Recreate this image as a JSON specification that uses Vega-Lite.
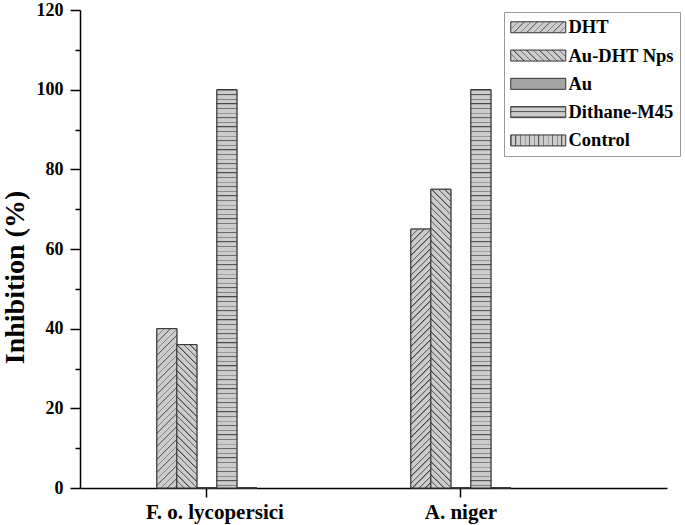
{
  "$schema": "https://vega.github.io/schema/vega-lite/v6.json",
  "width": 587,
  "height": 478,
  "autosize": {"type": "none"},
  "padding": {"left": 80, "top": 10, "right": 18, "bottom": 37},
  "background": "white",
  "params": [
    {"name": "S", "value": [
{"offset":0,"color":"#444"},{"offset":0.003,"color":"#ccc"},{"offset":0.01,"color":"#ccc"},
{"offset":0.01,"color":"#444"},{"offset":0.013,"color":"#ccc"},{"offset":0.02,"color":"#ccc"},
{"offset":0.02,"color":"#444"},{"offset":0.023,"color":"#ccc"},{"offset":0.03,"color":"#ccc"},
{"offset":0.03,"color":"#444"},{"offset":0.033,"color":"#ccc"},{"offset":0.04,"color":"#ccc"},
{"offset":0.04,"color":"#444"},{"offset":0.043,"color":"#ccc"},{"offset":0.05,"color":"#ccc"},
{"offset":0.05,"color":"#444"},{"offset":0.053,"color":"#ccc"},{"offset":0.06,"color":"#ccc"},
{"offset":0.06,"color":"#444"},{"offset":0.063,"color":"#ccc"},{"offset":0.07,"color":"#ccc"},
{"offset":0.07,"color":"#444"},{"offset":0.073,"color":"#ccc"},{"offset":0.08,"color":"#ccc"},
{"offset":0.08,"color":"#444"},{"offset":0.083,"color":"#ccc"},{"offset":0.09,"color":"#ccc"},
{"offset":0.09,"color":"#444"},{"offset":0.093,"color":"#ccc"},{"offset":0.1,"color":"#ccc"},
{"offset":0.1,"color":"#444"},{"offset":0.103,"color":"#ccc"},{"offset":0.11,"color":"#ccc"},
{"offset":0.11,"color":"#444"},{"offset":0.113,"color":"#ccc"},{"offset":0.12,"color":"#ccc"},
{"offset":0.12,"color":"#444"},{"offset":0.123,"color":"#ccc"},{"offset":0.13,"color":"#ccc"},
{"offset":0.13,"color":"#444"},{"offset":0.133,"color":"#ccc"},{"offset":0.14,"color":"#ccc"},
{"offset":0.14,"color":"#444"},{"offset":0.143,"color":"#ccc"},{"offset":0.15,"color":"#ccc"},
{"offset":0.15,"color":"#444"},{"offset":0.153,"color":"#ccc"},{"offset":0.16,"color":"#ccc"},
{"offset":0.16,"color":"#444"},{"offset":0.163,"color":"#ccc"},{"offset":0.17,"color":"#ccc"},
{"offset":0.17,"color":"#444"},{"offset":0.173,"color":"#ccc"},{"offset":0.18,"color":"#ccc"},
{"offset":0.18,"color":"#444"},{"offset":0.183,"color":"#ccc"},{"offset":0.19,"color":"#ccc"},
{"offset":0.19,"color":"#444"},{"offset":0.193,"color":"#ccc"},{"offset":0.2,"color":"#ccc"},
{"offset":0.2,"color":"#444"},{"offset":0.203,"color":"#ccc"},{"offset":0.21,"color":"#ccc"},
{"offset":0.21,"color":"#444"},{"offset":0.213,"color":"#ccc"},{"offset":0.22,"color":"#ccc"},
{"offset":0.22,"color":"#444"},{"offset":0.223,"color":"#ccc"},{"offset":0.23,"color":"#ccc"},
{"offset":0.23,"color":"#444"},{"offset":0.233,"color":"#ccc"},{"offset":0.24,"color":"#ccc"},
{"offset":0.24,"color":"#444"},{"offset":0.243,"color":"#ccc"},{"offset":0.25,"color":"#ccc"},
{"offset":0.25,"color":"#444"},{"offset":0.253,"color":"#ccc"},{"offset":0.26,"color":"#ccc"},
{"offset":0.26,"color":"#444"},{"offset":0.263,"color":"#ccc"},{"offset":0.27,"color":"#ccc"},
{"offset":0.27,"color":"#444"},{"offset":0.273,"color":"#ccc"},{"offset":0.28,"color":"#ccc"},
{"offset":0.28,"color":"#444"},{"offset":0.283,"color":"#ccc"},{"offset":0.29,"color":"#ccc"},
{"offset":0.29,"color":"#444"},{"offset":0.293,"color":"#ccc"},{"offset":0.3,"color":"#ccc"},
{"offset":0.3,"color":"#444"},{"offset":0.303,"color":"#ccc"},{"offset":0.31,"color":"#ccc"},
{"offset":0.31,"color":"#444"},{"offset":0.313,"color":"#ccc"},{"offset":0.32,"color":"#ccc"},
{"offset":0.32,"color":"#444"},{"offset":0.323,"color":"#ccc"},{"offset":0.33,"color":"#ccc"},
{"offset":0.33,"color":"#444"},{"offset":0.333,"color":"#ccc"},{"offset":0.34,"color":"#ccc"},
{"offset":0.34,"color":"#444"},{"offset":0.343,"color":"#ccc"},{"offset":0.35,"color":"#ccc"},
{"offset":0.35,"color":"#444"},{"offset":0.353,"color":"#ccc"},{"offset":0.36,"color":"#ccc"},
{"offset":0.36,"color":"#444"},{"offset":0.363,"color":"#ccc"},{"offset":0.37,"color":"#ccc"},
{"offset":0.37,"color":"#444"},{"offset":0.373,"color":"#ccc"},{"offset":0.38,"color":"#ccc"},
{"offset":0.38,"color":"#444"},{"offset":0.383,"color":"#ccc"},{"offset":0.39,"color":"#ccc"},
{"offset":0.39,"color":"#444"},{"offset":0.393,"color":"#ccc"},{"offset":0.4,"color":"#ccc"},
{"offset":0.4,"color":"#444"},{"offset":0.403,"color":"#ccc"},{"offset":0.41,"color":"#ccc"},
{"offset":0.41,"color":"#444"},{"offset":0.413,"color":"#ccc"},{"offset":0.42,"color":"#ccc"},
{"offset":0.42,"color":"#444"},{"offset":0.423,"color":"#ccc"},{"offset":0.43,"color":"#ccc"},
{"offset":0.43,"color":"#444"},{"offset":0.433,"color":"#ccc"},{"offset":0.44,"color":"#ccc"},
{"offset":0.44,"color":"#444"},{"offset":0.443,"color":"#ccc"},{"offset":0.45,"color":"#ccc"},
{"offset":0.45,"color":"#444"},{"offset":0.453,"color":"#ccc"},{"offset":0.46,"color":"#ccc"},
{"offset":0.46,"color":"#444"},{"offset":0.463,"color":"#ccc"},{"offset":0.47,"color":"#ccc"},
{"offset":0.47,"color":"#444"},{"offset":0.473,"color":"#ccc"},{"offset":0.48,"color":"#ccc"},
{"offset":0.48,"color":"#444"},{"offset":0.483,"color":"#ccc"},{"offset":0.49,"color":"#ccc"},
{"offset":0.49,"color":"#444"},{"offset":0.493,"color":"#ccc"},{"offset":0.5,"color":"#ccc"},
{"offset":0.5,"color":"#444"},{"offset":0.503,"color":"#ccc"},{"offset":0.51,"color":"#ccc"},
{"offset":0.51,"color":"#444"},{"offset":0.513,"color":"#ccc"},{"offset":0.52,"color":"#ccc"},
{"offset":0.52,"color":"#444"},{"offset":0.523,"color":"#ccc"},{"offset":0.53,"color":"#ccc"},
{"offset":0.53,"color":"#444"},{"offset":0.533,"color":"#ccc"},{"offset":0.54,"color":"#ccc"},
{"offset":0.54,"color":"#444"},{"offset":0.543,"color":"#ccc"},{"offset":0.55,"color":"#ccc"},
{"offset":0.55,"color":"#444"},{"offset":0.553,"color":"#ccc"},{"offset":0.56,"color":"#ccc"},
{"offset":0.56,"color":"#444"},{"offset":0.563,"color":"#ccc"},{"offset":0.57,"color":"#ccc"},
{"offset":0.57,"color":"#444"},{"offset":0.573,"color":"#ccc"},{"offset":0.58,"color":"#ccc"},
{"offset":0.58,"color":"#444"},{"offset":0.583,"color":"#ccc"},{"offset":0.59,"color":"#ccc"},
{"offset":0.59,"color":"#444"},{"offset":0.593,"color":"#ccc"},{"offset":0.6,"color":"#ccc"},
{"offset":0.6,"color":"#444"},{"offset":0.603,"color":"#ccc"},{"offset":0.61,"color":"#ccc"},
{"offset":0.61,"color":"#444"},{"offset":0.613,"color":"#ccc"},{"offset":0.62,"color":"#ccc"},
{"offset":0.62,"color":"#444"},{"offset":0.623,"color":"#ccc"},{"offset":0.63,"color":"#ccc"},
{"offset":0.63,"color":"#444"},{"offset":0.633,"color":"#ccc"},{"offset":0.64,"color":"#ccc"},
{"offset":0.64,"color":"#444"},{"offset":0.643,"color":"#ccc"},{"offset":0.65,"color":"#ccc"},
{"offset":0.65,"color":"#444"},{"offset":0.653,"color":"#ccc"},{"offset":0.66,"color":"#ccc"},
{"offset":0.66,"color":"#444"},{"offset":0.663,"color":"#ccc"},{"offset":0.67,"color":"#ccc"},
{"offset":0.67,"color":"#444"},{"offset":0.673,"color":"#ccc"},{"offset":0.68,"color":"#ccc"},
{"offset":0.68,"color":"#444"},{"offset":0.683,"color":"#ccc"},{"offset":0.69,"color":"#ccc"},
{"offset":0.69,"color":"#444"},{"offset":0.693,"color":"#ccc"},{"offset":0.7,"color":"#ccc"},
{"offset":0.7,"color":"#444"},{"offset":0.703,"color":"#ccc"},{"offset":0.71,"color":"#ccc"},
{"offset":0.71,"color":"#444"},{"offset":0.713,"color":"#ccc"},{"offset":0.72,"color":"#ccc"},
{"offset":0.72,"color":"#444"},{"offset":0.723,"color":"#ccc"},{"offset":0.73,"color":"#ccc"},
{"offset":0.73,"color":"#444"},{"offset":0.733,"color":"#ccc"},{"offset":0.74,"color":"#ccc"},
{"offset":0.74,"color":"#444"},{"offset":0.743,"color":"#ccc"},{"offset":0.75,"color":"#ccc"},
{"offset":0.75,"color":"#444"},{"offset":0.753,"color":"#ccc"},{"offset":0.76,"color":"#ccc"},
{"offset":0.76,"color":"#444"},{"offset":0.763,"color":"#ccc"},{"offset":0.77,"color":"#ccc"},
{"offset":0.77,"color":"#444"},{"offset":0.773,"color":"#ccc"},{"offset":0.78,"color":"#ccc"},
{"offset":0.78,"color":"#444"},{"offset":0.783,"color":"#ccc"},{"offset":0.79,"color":"#ccc"},
{"offset":0.79,"color":"#444"},{"offset":0.793,"color":"#ccc"},{"offset":0.8,"color":"#ccc"},
{"offset":0.8,"color":"#444"},{"offset":0.803,"color":"#ccc"},{"offset":0.81,"color":"#ccc"},
{"offset":0.81,"color":"#444"},{"offset":0.813,"color":"#ccc"},{"offset":0.82,"color":"#ccc"},
{"offset":0.82,"color":"#444"},{"offset":0.823,"color":"#ccc"},{"offset":0.83,"color":"#ccc"},
{"offset":0.83,"color":"#444"},{"offset":0.833,"color":"#ccc"},{"offset":0.84,"color":"#ccc"},
{"offset":0.84,"color":"#444"},{"offset":0.843,"color":"#ccc"},{"offset":0.85,"color":"#ccc"},
{"offset":0.85,"color":"#444"},{"offset":0.853,"color":"#ccc"},{"offset":0.86,"color":"#ccc"},
{"offset":0.86,"color":"#444"},{"offset":0.863,"color":"#ccc"},{"offset":0.87,"color":"#ccc"},
{"offset":0.87,"color":"#444"},{"offset":0.873,"color":"#ccc"},{"offset":0.88,"color":"#ccc"}
    ]}
  ],
  "data": {"values": [
    {"fungus": "F. o. lycopersici", "treatment": "DHT", "inhibition": 40},
    {"fungus": "F. o. lycopersici", "treatment": "Au-DHT Nps", "inhibition": 36},
    {"fungus": "F. o. lycopersici", "treatment": "Au", "inhibition": 0},
    {"fungus": "F. o. lycopersici", "treatment": "Dithane-M45", "inhibition": 100},
    {"fungus": "F. o. lycopersici", "treatment": "Control", "inhibition": 0},
    {"fungus": "A. niger", "treatment": "DHT", "inhibition": 65},
    {"fungus": "A. niger", "treatment": "Au-DHT Nps", "inhibition": 75},
    {"fungus": "A. niger", "treatment": "Au", "inhibition": 0},
    {"fungus": "A. niger", "treatment": "Dithane-M45", "inhibition": 100},
    {"fungus": "A. niger", "treatment": "Control", "inhibition": 0}
  ]},
  "encoding": {
    "x": {
      "field": "fungus", "type": "nominal",
      "sort": ["F. o. lycopersici", "A. niger"],
      "scale": {"paddingInner": 0.606, "paddingOuter": 0.4585, "align": 0.33},
      "axis": {"title": null, "labelAngle": 0, "tickSize": 9, "labelPadding": 4,
               "labelFontSize": 21,
               "labelOffset": {"condition": {"test": "datum.value === 'F. o. lycopersici'", "value": 8}, "value": 0}}
    },
    "xOffset": {
      "field": "treatment", "type": "nominal",
      "sort": ["DHT", "Au-DHT Nps", "Au", "Dithane-M45", "Control"],
      "scale": {"paddingInner": 0, "paddingOuter": 0}
    },
    "y": {
      "field": "inhibition", "type": "quantitative",
      "scale": {"domain": [0, 120], "nice": false},
      "axis": {
        "title": "Inhibition (%)",
        "values": [0, 10, 20, 30, 40, 50, 60, 70, 80, 90, 100, 110, 120],
        "labelExpr": "datum.value % 20 === 0 ? datum.label : ''",
        "tickSize": {"expr": "datum.value % 20 === 0 ? 10 : 5"},
        "labelPadding": 7,
        "labelFontSize": 18,
        "titleFontSize": 28,
        "titlePadding": 7,
        "titleY": 267
      }
    }
  },
  "layer": [
    {
      "mark": {"type": "bar", "stroke": "#333333", "strokeWidth": 1},
      "encoding": {
        "fill": {
          "field": "treatment", "type": "nominal",
          "sort": ["DHT", "Au-DHT Nps", "Au", "Dithane-M45", "Control"],
          "scale": {"range": [
            {"expr": "{'gradient': 'linear', 'x1': 0, 'y1': 0, 'x2': 11.364, 'y2': 2.2727, 'stops': S}"},
            {"expr": "{'gradient': 'linear', 'x1': 0, 'y1': 1, 'x2': 11.364, 'y2': -1.2727, 'stops': S}"},
            "#a4a4a4",
            {"expr": "{'gradient': 'linear', 'x1': 0, 'y1': 0, 'x2': 0, 'y2': 41.78, 'stops': S}"},
            {"expr": "{'gradient': 'linear', 'x1': 0, 'y1': 0, 'x2': 8.357, 'y2': 0, 'stops': S}"}
          ]},
          "legend": {
            "title": null,
            "orient": "none",
            "legendX": 424,
            "legendY": 2,
            "strokeColor": "#999999",
            "fillColor": "white",
            "padding": 6,
            "symbolType": "M-1.545,-1H8.455V1H-1.545Z",
            "symbolSize": 121,
            "symbolStrokeColor": "#333333",
            "symbolStrokeWidth": 1,
            "symbolOpacity": 1,
            "labelFont": "Liberation Serif",
            "labelFontWeight": "bold",
            "labelFontSize": 18.5,
            "labelColor": "black",
            "labelOffset": 40,
            "labelLimit": 200,
            "rowPadding": 9.3
          }
        }
      }
    },
    {
      "mark": {
        "type": "bar", "stroke": "#333333", "strokeWidth": 1,
        "fill": {"expr": "datum.treatment === 'Dithane-M45' ? {'gradient': 'linear', 'x1': 0, 'y1': 0, 'x2': 0, 'y2': 459.6 / (scale('y', 0) - scale('y', datum.inhibition)), 'stops': S} : datum.treatment === 'DHT' ? {'gradient': 'linear', 'x1': 0, 'y1': 0, 'x2': 13000 / (400 + pow(scale('y', 0) - scale('y', datum.inhibition), 2)), 'y2': 650 * (scale('y', 0) - scale('y', datum.inhibition)) / (400 + pow(scale('y', 0) - scale('y', datum.inhibition), 2)), 'stops': S} : datum.treatment === 'Au-DHT Nps' ? {'gradient': 'linear', 'x1': 0, 'y1': 1, 'x2': 13000 / (400 + pow(scale('y', 0) - scale('y', datum.inhibition), 2)), 'y2': 1 - 650 * (scale('y', 0) - scale('y', datum.inhibition)) / (400 + pow(scale('y', 0) - scale('y', datum.inhibition), 2)), 'stops': S} : '#b9b9b9'"}
      }
    }
  ],
  "config": {
    "view": {"stroke": null},
    "axis": {
      "grid": false,
      "domainColor": "black",
      "domainWidth": 1.5,
      "tickColor": "black",
      "tickWidth": 1.5,
      "labelFont": "Liberation Serif",
      "labelFontWeight": "bold",
      "labelColor": "black",
      "titleFont": "Liberation Serif",
      "titleFontWeight": "bold",
      "titleColor": "black"
    }
  }
}
